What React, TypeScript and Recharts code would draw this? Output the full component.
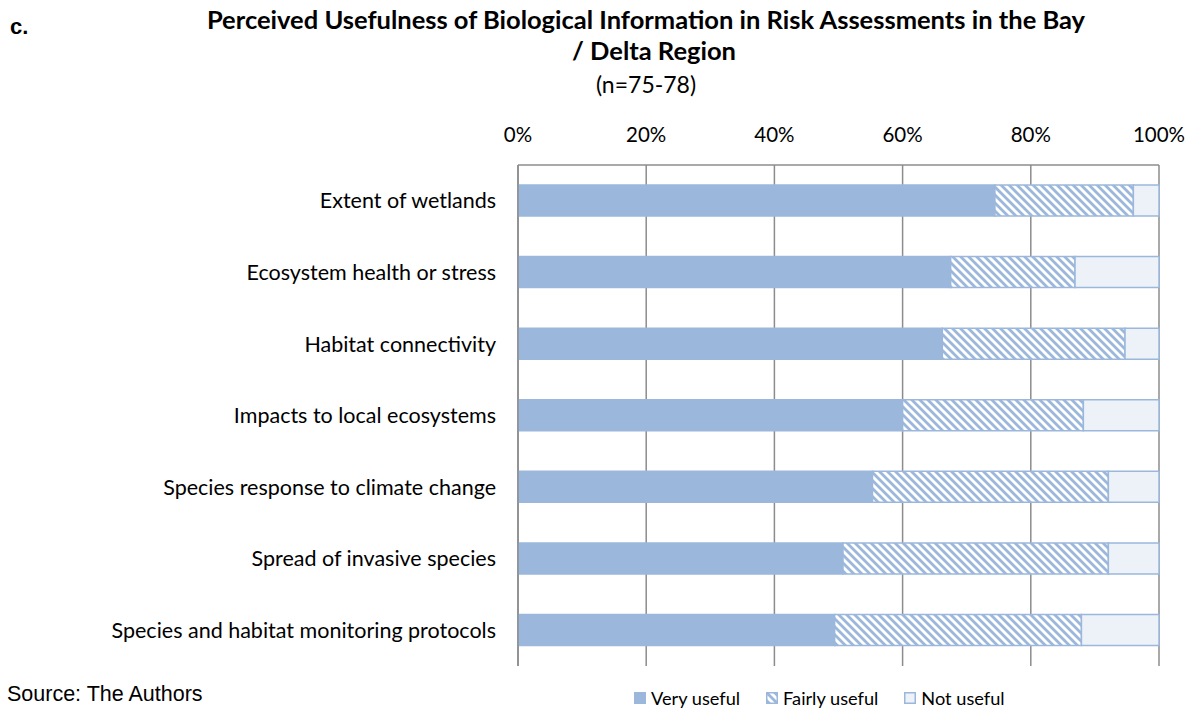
import { Bar, BarChart, CartesianGrid, XAxis, YAxis } from 'recharts'

// Stacked 100% bars, one per information type (top to bottom as in the figure).
const categories = [
  'Extent of wetlands',
  'Ecosystem health or stress',
  'Habitat connectivity',
  'Impacts to local ecosystems',
  'Species response to climate change',
  'Spread of invasive species',
  'Species and habitat monitoring protocols',
]
const veryUseful = [74.4, 67.5, 66.2, 60.0, 55.3, 50.7, 49.4]
const fairlyUseful = [21.6, 19.4, 28.5, 28.2, 36.8, 41.4, 38.5]
const notUseful = [4.0, 13.1, 5.3, 11.8, 7.9, 7.9, 12.1]
const xTicks = [0, 20, 40, 60, 80, 100]

const BLUE = '#9bb8dc'
const PALE = '#edf2f9'
const GRID = '#8c8c8c'
const FONT = 'Lato, "Noto Sans", sans-serif'
const ARIAL = '"Liberation Sans", Arial, sans-serif'

const data = categories.map((name, i) => ({
  name,
  very: veryUseful[i],
  fairly: fairlyUseful[i],
  not: notUseful[i],
}))

const series = [
  { key: 'very', label: 'Very useful', fill: BLUE },
  { key: 'fairly', label: 'Fairly useful', fill: 'url(#hatch)' },
  { key: 'not', label: 'Not useful', fill: PALE },
]

export default function App() {
  return (
    <div style={{ position: 'absolute', left: 0, top: 0, width: 1192, height: 712, background: '#fff' }}>
      <div style={{ position: 'absolute', left: 10, top: 14, font: `bold 22px ${ARIAL}` }}>c.</div>
      <div
        style={{
          position: 'absolute',
          left: 0,
          width: 1292,
          top: 4,
          textAlign: 'center',
          fontFamily: FONT,
          color: '#000',
        }}
      >
        <div style={{ fontWeight: 700, fontSize: 25.5, lineHeight: '31px' }}>
          Perceived Usefulness of Biological Information in Risk Assessments in the Bay
        </div>
        <div style={{ fontWeight: 700, fontSize: 25.5, lineHeight: '31px', paddingLeft: 16 }}>/ Delta Region</div>
        <div style={{ fontSize: 23, lineHeight: '36px' }}>(n=75-78)</div>
      </div>

      {/* plot area: x 518–1159 (0–100 %), y 165–666 */}
      <BarChart
        width={1192}
        height={712}
        data={data}
        layout="vertical"
        barCategoryGap="28%"
        margin={{ top: 125, right: 33, bottom: 46, left: 8 }}
      >
        <defs>
          <pattern id="hatch" patternUnits="userSpaceOnUse" width={8} height={8}>
            <rect width={8} height={8} fill="#fff" />
            <path d="M0,0 L8,8 M-2,6 L2,10 M6,-2 L10,2" stroke={BLUE} strokeWidth={2.8} />
          </pattern>
        </defs>
        <CartesianGrid horizontal={false} stroke={GRID} strokeWidth={1.5} />
        <XAxis
          type="number"
          orientation="top"
          domain={[0, 100]}
          ticks={xTicks}
          tickFormatter={(v) => `${v}%`}
          axisLine={{ stroke: GRID, strokeWidth: 1.5 }}
          tickLine={false}
          tickSize={0}
          tickMargin={23}
          height={40}
          tick={{ fontSize: 20.5, fill: '#000', fontFamily: FONT }}
        />
        <YAxis
          type="category"
          dataKey="name"
          width={510}
          axisLine={{ stroke: GRID, strokeWidth: 1.5 }}
          tickLine={false}
          tickSize={0}
          tickMargin={22}
          tick={{ fontSize: 21.5, fill: '#000', fontFamily: FONT }}
        />
        {series.map((s) => (
          <Bar
            key={s.key}
            dataKey={s.key}
            stackId="a"
            fill={s.fill}
            stroke={BLUE}
            strokeWidth={1.5}
            isAnimationActive={false}
          />
        ))}
      </BarChart>

      <div style={{ position: 'absolute', left: 7, top: 682, font: `21.5px ${ARIAL}`, color: '#000' }}>
        Source: The Authors
      </div>
      <div
        style={{
          position: 'absolute',
          left: 634,
          top: 687,
          display: 'flex',
          gap: 26,
          fontFamily: FONT,
          fontSize: 18.2,
          color: '#000',
        }}
      >
        {series.map((s) => (
          <div key={s.key} style={{ display: 'flex', alignItems: 'center', gap: 5 }}>
            <svg width={12} height={12}>
              <rect x={0.75} y={0.75} width={10.5} height={10.5} fill={s.fill} stroke={BLUE} strokeWidth={1.5} />
            </svg>
            <span>{s.label}</span>
          </div>
        ))}
      </div>
    </div>
  )
}
